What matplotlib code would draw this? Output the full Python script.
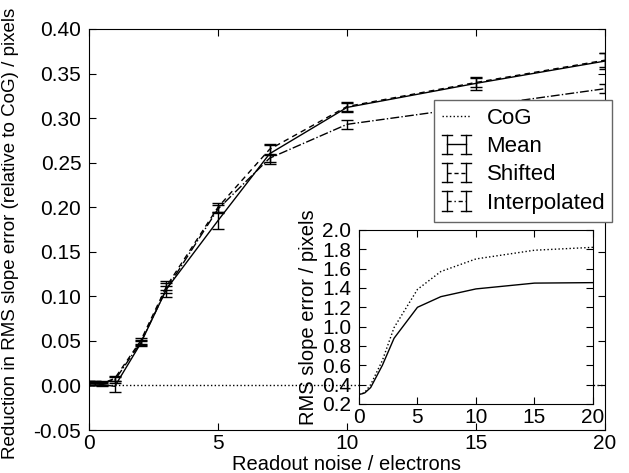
import numpy as np
import matplotlib.pyplot as plt
from matplotlib.lines import Line2D
from matplotlib.legend_handler import HandlerBase

plt.rcParams['font.family'] = ['Liberation Sans', 'DejaVu Sans']
plt.rcParams['font.size'] = 15

# readout noise values (electrons)
noise = [0, 0.25, 0.5, 1, 2, 3, 5, 7, 10, 15, 20]

# reduction in RMS slope error relative to CoG (pixels)
mean_red = [0.002, 0.002, 0.001, -0.001, 0.047, 0.108, 0.185, 0.260, 0.312, 0.339, 0.364]
mean_err = [0.002, 0.002, 0.002, 0.006, 0.003, 0.009, 0.010, 0.011, 0.005, 0.007, 0.009]
shift_red = [0.003, 0.003, 0.002, 0.008, 0.050, 0.111, 0.200, 0.265, 0.313, 0.340, 0.365]
shift_err = [0.002, 0.002, 0.002, 0.003, 0.003, 0.004, 0.005, 0.005, 0.005, 0.005, 0.008]
interp_red = [0.003, 0.003, 0.003, 0.006, 0.048, 0.108, 0.198, 0.255, 0.293, 0.313, 0.333]
interp_err = [0.002, 0.002, 0.002, 0.003, 0.003, 0.004, 0.004, 0.004, 0.005, 0.005, 0.005]
cog_red = [0, 0, 0, 0, 0, 0, 0, 0, 0, 0, 0]

# absolute RMS slope error (pixels) for the inset
cog_rms = [0.30, 0.305, 0.32, 0.40, 0.65, 0.99, 1.385, 1.57, 1.70, 1.79, 1.82]
mean_rms = [0.30, 0.305, 0.315, 0.37, 0.60, 0.88, 1.20, 1.31, 1.39, 1.45, 1.455]


class EndCapHandler(HandlerBase):
    # line with an I-shaped error bar at each end
    def __init__(self, ls, dashes=None):
        HandlerBase.__init__(self)
        self.ls = ls
        self.dashes = dashes

    def create_artists(self, legend, orig_handle, xdescent, ydescent,
                       width, height, fontsize, trans):
        y = height / 2.0 - ydescent
        x0, x1 = -xdescent, width - xdescent
        h = 7.0
        c = 3.5
        line = Line2D([x0 + c, x1 - c], [y, y], color='k', lw=1, ls=self.ls)
        if self.dashes:
            line.set_dashes(self.dashes)
        arts = [line]
        for x in (x0 + c, x1 - c):
            arts.append(Line2D([x, x], [y - h, y + h], color='k', lw=1))
            arts.append(Line2D([x - c, x + c], [y + h, y + h], color='k', lw=1))
            arts.append(Line2D([x - c, x + c], [y - h, y - h], color='k', lw=1))
        for a in arts:
            a.set_transform(trans)
        return arts


fig = plt.figure(figsize=(6.29, 4.73), dpi=100)
ax = fig.add_axes([0.1415, 0.0909, 0.8203, 0.8478])

cog_line, = ax.plot(noise, cog_red, ':', color='k', lw=1)
eb_mean = ax.errorbar(noise, mean_red, yerr=mean_err, fmt='-', color='k', lw=1,
                      elinewidth=1, capsize=4, capthick=1)
eb_shift = ax.errorbar(noise, shift_red, yerr=shift_err, fmt='--', color='k', lw=1,
                       elinewidth=1, capsize=4, capthick=1, dashes=(4, 3))
eb_interp = ax.errorbar(noise, interp_red, yerr=interp_err, fmt='-.', color='k', lw=1,
                        elinewidth=1, capsize=4, capthick=1)

ax.set_xlim(0, 20)
ax.set_ylim(-0.05, 0.40)
ax.set_xticks([0, 5, 10, 15, 20])
yt = np.arange(-0.05, 0.401, 0.05)
ax.set_yticks(yt)
ax.set_yticklabels(['%.2f' % v for v in yt])
ax.tick_params(direction='in', top=True, right=True, length=5)
ax.tick_params(axis='y', pad=5.5)
ax.tick_params(axis='x', pad=3)
ax.set_xlabel('Readout noise / electrons', fontsize=14.5, labelpad=1)
ax.set_ylabel('Reduction in RMS slope error (relative to CoG) / pixels',
              fontsize=13.5, labelpad=6)
ax.yaxis.set_label_coords(-0.135, 0.491)

leg = ax.legend([cog_line, eb_mean, eb_shift, eb_interp],
                ['CoG', 'Mean', 'Shifted', 'Interpolated'],
                handler_map={eb_mean: EndCapHandler('-'),
                             eb_shift: EndCapHandler('--', (3, 2)),
                             eb_interp: EndCapHandler('-.', (3, 2, 1, 2))},
                loc='upper right', bbox_to_anchor=(1.0136, 0.823),
                fontsize=16, fancybox=False, framealpha=1, edgecolor='0.4',
                handlelength=1.3, handletextpad=0.7, labelspacing=0.33,
                borderpad=0.35, borderaxespad=0)
leg.get_frame().set_linewidth(1)

ins = fig.add_axes([0.5707, 0.1459, 0.372, 0.368])
ins.set_facecolor('white')
ins.plot(noise, cog_rms, ':', color='k', lw=1)
ins.plot(noise, mean_rms, '-', color='k', lw=1)
ins.set_xlim(0, 20)
ins.set_ylim(0.2, 2.0)
ins.set_xticks([0, 5, 10, 15, 20])
it = np.arange(0.2, 2.01, 0.2)
ins.set_yticks(it)
ins.set_yticklabels(['%.1f' % v for v in it])
ins.tick_params(direction='in', top=True, right=True, length=5)
ins.tick_params(axis='y', pad=5.5)
ins.tick_params(axis='x', pad=3)
ins.set_ylabel('RMS slope error / pixels', fontsize=14.5, labelpad=3)

fig.savefig('out.png', dpi=100)
